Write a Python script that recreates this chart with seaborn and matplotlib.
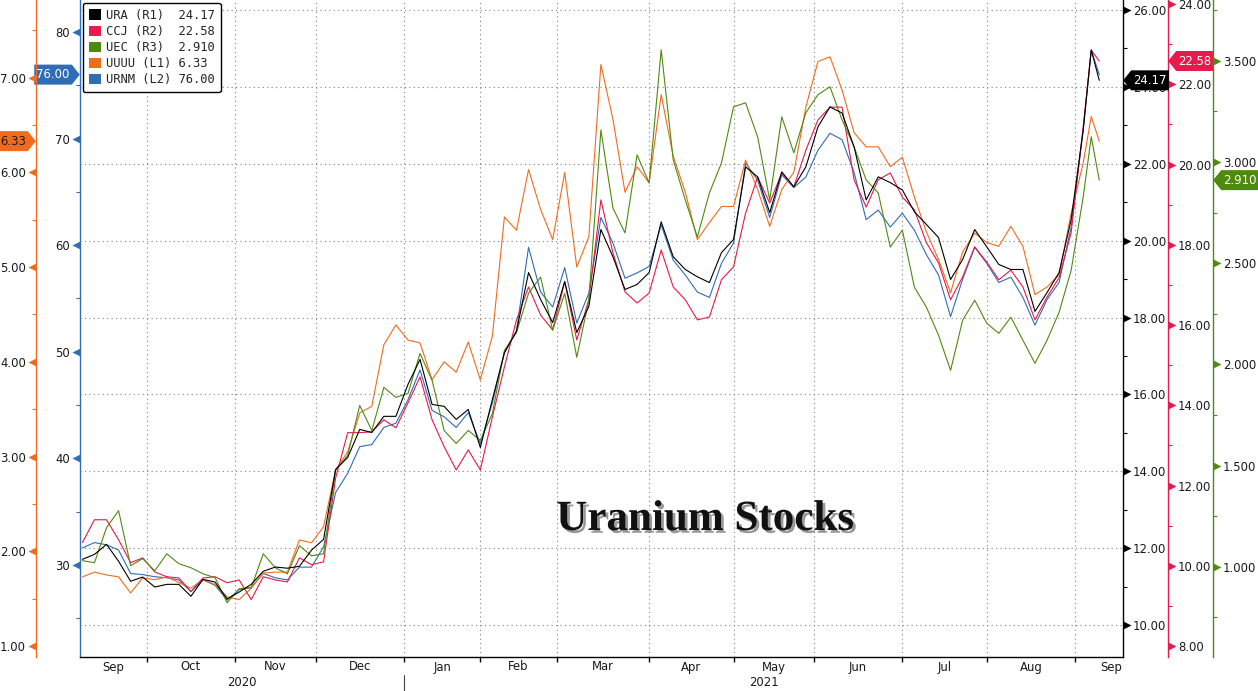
import numpy as np
import pandas as pd
import seaborn as sns
import matplotlib
matplotlib.use("Agg")
import matplotlib.pyplot as plt
import matplotlib.patheffects as pe
from matplotlib.path import Path
from matplotlib.patches import Patch
from matplotlib.ticker import FixedLocator, FuncFormatter, NullFormatter

# calendrier de bourse (jours feries NYSE retires)
holidays = ["2020-11-26", "2020-12-25", "2021-01-01", "2021-01-18", "2021-02-15",
            "2021-04-02", "2021-05-31", "2021-07-05", "2021-09-06"]
days = pd.bdate_range("2020-09-09", "2021-09-10", freq="C", holidays=holidays)

# un point toutes les 3 seances + les dernieres seances
sample_day = list(range(0, 250, 3)) + [251, 253]

ura = [11.71, 11.84, 12.10, 11.66, 11.14, 11.25, 10.99, 11.06, 11.06, 10.75,
       11.19, 11.12, 10.68, 10.86, 11.06, 11.40, 11.51, 11.48, 11.53, 11.95,
       12.23, 14.05, 14.36, 15.09, 15.01, 15.43, 15.43, 16.26, 16.91, 15.74,
       15.69, 15.35, 15.61, 14.62, 15.87, 17.09, 17.64, 19.17, 18.47, 17.87,
       18.94, 17.61, 18.29, 20.29, 19.58, 18.73, 18.86, 19.17, 20.49, 19.58,
       19.25, 19.06, 18.91, 19.69, 20.03, 21.92, 21.66, 20.73, 21.79, 21.40,
       21.92, 22.96, 23.48, 23.32, 22.44, 21.06, 21.66, 21.51, 21.32, 20.75,
       20.42, 20.08, 18.99, 19.51, 20.29, 19.84, 19.38, 19.25, 19.25, 18.16,
       18.65, 19.17, 20.55, 22.88, 24.96, 24.17]
ccj = [10.58, 11.15, 11.15, 10.65, 10.08, 10.20, 9.85, 9.73, 9.70, 9.36,
       9.70, 9.73, 9.58, 9.65, 9.16, 9.73, 9.65, 9.60, 10.20, 10.03,
       10.10, 12.19, 13.32, 13.32, 13.34, 13.64, 13.44, 14.06, 14.71, 13.64,
       12.97, 12.39, 12.89, 12.39, 13.71, 14.96, 16.13, 16.95, 16.25, 15.88,
       17.08, 15.63, 16.63, 19.12, 17.80, 16.83, 16.55, 16.80, 17.87, 16.95,
       16.63, 16.13, 16.20, 17.13, 17.45, 18.79, 19.69, 19.04, 19.79, 19.44,
       20.36, 21.11, 21.43, 21.43, 19.62, 18.94, 19.62, 19.79, 19.19, 18.87,
       18.05, 17.55, 16.63, 17.20, 17.95, 17.57, 17.13, 17.37, 16.95, 16.13,
       16.70, 17.18, 18.30, 20.94, 22.85, 22.58]
uec = [1.030, 1.020, 1.193, 1.277, 1.005, 1.040, 0.980, 1.064, 1.015, 0.995,
       0.965, 0.946, 0.822, 0.891, 0.896, 1.064, 0.995, 0.965, 1.104, 1.054,
       1.064, 1.475, 1.550, 1.797, 1.673, 1.886, 1.837, 1.856, 2.054, 1.921,
       1.673, 1.609, 1.673, 1.624, 1.757, 2.069, 2.158, 2.351, 2.431, 2.168,
       2.351, 2.035, 2.317, 3.158, 2.772, 2.649, 3.035, 2.896, 3.554, 3.010,
       2.812, 2.629, 2.847, 2.995, 3.272, 3.292, 3.124, 2.812, 3.223, 3.045,
       3.243, 3.332, 3.371, 3.208, 3.074, 2.911, 2.847, 2.579, 2.663, 2.381,
       2.282, 2.144, 1.970, 2.218, 2.317, 2.203, 2.153, 2.233, 2.119, 2.005,
       2.119, 2.257, 2.465, 2.827, 3.124, 2.910]
uuuu = [1.73, 1.78, 1.75, 1.73, 1.56, 1.72, 1.70, 1.73, 1.67, 1.61,
        1.70, 1.65, 1.52, 1.49, 1.61, 1.77, 1.78, 1.78, 2.12, 2.09,
        2.26, 2.86, 3.05, 3.46, 3.53, 4.18, 4.39, 4.23, 4.20, 3.81,
        4.00, 3.89, 4.21, 3.81, 4.27, 5.53, 5.39, 6.03, 5.61, 5.29,
        6.00, 5.00, 5.32, 7.14, 6.56, 5.79, 6.06, 5.89, 6.82, 6.17,
        5.79, 5.29, 5.47, 5.64, 5.64, 6.13, 5.82, 5.43, 5.82, 6.00,
        6.69, 7.17, 7.22, 6.87, 6.42, 6.27, 6.27, 6.06, 6.16, 5.74,
        5.37, 5.08, 4.73, 5.16, 5.36, 5.26, 5.22, 5.43, 5.22, 4.71,
        4.79, 4.92, 5.57, 6.10, 6.59, 6.33]
urnm = [31.6, 32.1, 31.9, 31.4, 29.2, 29.1, 28.9, 28.8, 28.6, 27.5,
        28.6, 28.1, 26.7, 27.7, 27.9, 29.2, 28.8, 28.6, 29.8, 29.8,
        31.7, 36.8, 38.6, 41.1, 41.3, 42.9, 43.3, 45.5, 48.3, 44.5,
        43.9, 42.9, 44.3, 41.4, 45.2, 49.9, 52.0, 59.8, 55.6, 54.2,
        57.9, 52.7, 55.5, 62.6, 60.2, 56.9, 57.4, 58.0, 61.9, 58.6,
        57.2, 55.6, 55.1, 58.3, 60.2, 67.7, 66.1, 62.6, 66.6, 65.4,
        66.4, 68.9, 70.5, 69.9, 66.8, 62.4, 63.3, 61.7, 63.0, 61.4,
        59.1, 57.2, 53.3, 56.8, 59.8, 58.3, 56.5, 57.0, 55.1, 52.5,
        54.9, 56.5, 61.7, 70.8, 78.3, 76.0]

tickers = ["URA", "CCJ", "UEC", "UUUU", "URNM"]
axis_names = ["R1", "R2", "R3", "L1", "L2"]
last_values = ["24.17", "22.58", "2.910", "6.33", "76.00"]
colors = ["#000000", "#e8194b", "#4f8a10", "#f26b1d", "#2f6db5"]

df = pd.DataFrame({"tday": sample_day, "URA": ura, "CCJ": ccj, "UEC": uec,
                   "UUUU": uuuu, "URNM": urnm})

sns.set_theme(style="ticks")
plt.rcParams["font.family"] = ["DejaVu Sans"]

# geometrie (pixels)
W, H = 1258, 691
L, R, B = 80, 1123, 657
pw = R - L
FS = 8.4

fig = plt.figure(figsize=(W / 100, H / 100), dpi=100, facecolor="white")
ax0 = fig.add_axes([L / W, 1 - B / H, pw / W, B / H])   # URNM (L2)
ax_o = ax0.twinx()                                       # UUUU (L1)
ax_r = ax0.twinx()                                       # CCJ (R2)
ax_g = ax0.twinx()                                       # UEC (R3)
ax_k = ax0.twinx()                                       # URA (R1)

axes = {"URNM": ax0, "UUUU": ax_o, "CCJ": ax_r, "UEC": ax_g, "URA": ax_k}
col = dict(zip(tickers, colors))

for t in ["URNM", "UUUU", "CCJ", "UEC", "URA"]:
    sns.lineplot(data=df, x="tday", y=t, ax=axes[t], color=col[t], linewidth=0.8)
    axes[t].set_xlabel("")
    axes[t].set_ylabel("")


def style_y(ax, side, offset_px, color, lim, major, minor, fmt):
    for sp in ax.spines.values():
        sp.set_visible(False)
    sp = ax.spines[side]
    sp.set_visible(True)
    sp.set_color(color)
    sp.set_linewidth(1.0)
    sp.set_position(("outward", offset_px * 0.72))
    ax.yaxis.set_ticks_position(side)
    ax.set_ylim(lim)
    ax.yaxis.set_major_locator(FixedLocator(major))
    ax.yaxis.set_minor_locator(FixedLocator(minor))
    ax.yaxis.set_major_formatter(FuncFormatter(lambda v, p: fmt.format(v)))
    ax.tick_params(axis="y", which="major", length=5.5, width=1, pad=1.8,
                   color=color, labelcolor="#1a1a1a", labelsize=FS)
    ax.tick_params(axis="y", which="minor", length=3, width=0.8, color=color)


style_y(ax0, "left", 0, col["URNM"], (21.37, 83.0),
        [30, 40, 50, 60, 70, 80], [25, 35, 45, 55, 65, 75], "{:.0f}")
style_y(ax_o, "left", 44, col["UUUU"], (0.884, 7.82),
        [1, 2, 3, 4, 5, 6, 7], [1.5, 2.5, 3.5, 4.5, 5.5, 6.5, 7.5], "{:.2f}")
style_y(ax_r, "right", 45, col["CCJ"], (7.73, 24.10),
        list(range(8, 25, 2)), list(range(9, 24, 2)), "{:.2f}")
style_y(ax_g, "right", 90, col["UEC"], (0.554, 3.80),
        [1.0, 1.5, 2.0, 2.5, 3.0, 3.5], [0.75, 1.25, 1.75, 2.25, 2.75, 3.25, 3.75], "{:.3f}")
style_y(ax_k, "right", 0, col["URA"], (9.17, 26.26),
        list(range(10, 27, 2)), list(range(11, 26, 2)), "{:.2f}")

# axe des x : bornes des mois
ax0.spines["bottom"].set_visible(True)
ax0.spines["bottom"].set_color("black")
ax0.spines["bottom"].set_linewidth(1.0)
xmin, xmax = -0.6, 258.9
ax0.set_xlim(xmin, xmax)
bounds = [i for i in range(1, len(days)) if days[i].month != days[i - 1].month]
ax0.xaxis.set_major_locator(FixedLocator(bounds))
ax0.xaxis.set_major_formatter(NullFormatter())
ax0.tick_params(axis="x", which="major", length=3.5, width=1, color="black",
                direction="out", bottom=True)

grid_kw = dict(color="#808080", linestyle=(0, (1, 3)), linewidth=0.8)
ax0.xaxis.grid(True, which="major", **grid_kw)
ax_k.yaxis.grid(True, which="major", **grid_kw)

edges = [xmin] + bounds + [xmax]
mids = [(a + b) / 2 for a, b in zip(edges[:-1], edges[1:])]
names = [days[0].strftime("%b")] + [days[i].strftime("%b") for i in bounds]
xtr = ax0.get_xaxis_transform()
for i, (m, n) in enumerate(zip(mids, names)):
    if i == len(mids) - 1:
        ax0.text(xmax - 0.3, -10 / B, n, transform=xtr, ha="right", va="center",
                 fontsize=FS, color="#1a1a1a")
    else:
        ax0.text(m, -10 / B, n, transform=xtr, ha="center", va="center",
                 fontsize=FS, color="#1a1a1a")

jan = [i for i in bounds if days[i].month == 1][0]
ax0.text((xmin + jan) / 2, -26 / B, "2020", transform=xtr, ha="center",
         va="center", fontsize=FS, color="#1a1a1a")
ax0.text((jan + xmax) / 2, -26 / B, "2021", transform=xtr, ha="center",
         va="center", fontsize=FS, color="#1a1a1a")
ax0.plot([jan, jan], [-18 / B, -34 / B], transform=xtr, clip_on=False,
         color="#444444", lw=0.8)


# triangles des graduations
def tri_marker(direction):
    s = 1 if direction == "right" else -1
    return Path([(0, -0.9), (1.8 * s, 0), (0, 0.9), (0, -0.9)],
                [Path.MOVETO, Path.LINETO, Path.LINETO, Path.CLOSEPOLY])


for ax, side, c in [(ax0, "left", col["URNM"]), (ax_o, "left", col["UUUU"]),
                    (ax_r, "right", col["CCJ"]), (ax_g, "right", col["UEC"]),
                    (ax_k, "right", col["URA"])]:
    for tk in ax.yaxis.get_major_ticks():
        ln = tk.tick2line if side == "right" else tk.tick1line
        ln.set_marker(tri_marker(side))
        ln.set_markersize(11.5)
        ln.set_markerfacecolor(c)
        ln.set_markeredgecolor(c)
        ln.set_markeredgewidth(0)


# etiquettes de derniere valeur
def tag_left(x0, y0, width, height, mutation_size):
    px, py = 0.18 * mutation_size, 0.3 * mutation_size
    x0, y0 = x0 - px, y0 - py
    x1, y1 = x0 + width + 2 * px, y0 + height + 2 * py
    tip = 0.4 * (y1 - y0)
    return Path([(x0, y0), (x1, y0), (x1, y1), (x0, y1), (x0 - tip, (y0 + y1) / 2), (x0, y0)],
                closed=True)


def tag_right(x0, y0, width, height, mutation_size):
    px, py = 0.18 * mutation_size, 0.3 * mutation_size
    x0, y0 = x0 - px, y0 - py
    x1, y1 = x0 + width + 2 * px, y0 + height + 2 * py
    tip = 0.4 * (y1 - y0)
    return Path([(x0, y0), (x1, y0), (x1 + tip, (y0 + y1) / 2), (x1, y1), (x0, y1), (x0, y0)],
                closed=True)


def tag(ax, xfrac, y, text, fc, tc, side):
    right = side == "right"
    ax.annotate(text, xy=(xfrac, y), xycoords=("axes fraction", "data"),
                xytext=(7.4 if right else -7.4, 0), textcoords="offset points",
                ha="left" if right else "right", va="center", fontsize=FS, color=tc,
                bbox=dict(boxstyle=tag_left if right else tag_right, fc=fc, ec="none"),
                annotation_clip=False, zorder=20)


tag(ax_k, 1.0, float(last_values[0]), last_values[0], col["URA"], "white", "right")
tag(ax_r, 1 + 45 / pw, float(last_values[1]), last_values[1], col["CCJ"], "white", "right")
tag(ax_g, 1 + 90 / pw, float(last_values[2]), last_values[2], col["UEC"], "white", "right")
tag(ax_o, -44 / pw, float(last_values[3]), last_values[3], col["UUUU"], "#1a1a1a", "left")
tag(ax0, 0.0, float(last_values[4]), last_values[4], col["URNM"], "white", "left")

# legende
handles = [Patch(facecolor=c, edgecolor="none", label=f"{t} ({a})".ljust(10) + v)
           for t, a, v, c in zip(tickers, axis_names, last_values, colors)]
leg = ax_k.legend(handles=handles, loc="upper left", bbox_to_anchor=(3 / pw, 1 - 3 / B),
                  borderaxespad=0, prop={"family": "DejaVu Sans Mono", "size": 8.7},
                  handlelength=1.0, handleheight=1.0, handletextpad=0.4,
                  labelspacing=0.25, borderpad=0.5, frameon=True, fancybox=True,
                  framealpha=1, edgecolor="black", facecolor="white")
leg.get_frame().set_linewidth(1.0)

fig.text(705 / W, 1 - 520 / H, "Uranium Stocks", ha="center", va="center",
         fontsize=31, fontweight="bold", family="Liberation Serif", color="#111111",
         path_effects=[pe.withSimplePatchShadow(offset=(2, -2), shadow_rgbFace="#555555",
                                                alpha=0.6)])

fig.savefig("out.png", dpi=100)
